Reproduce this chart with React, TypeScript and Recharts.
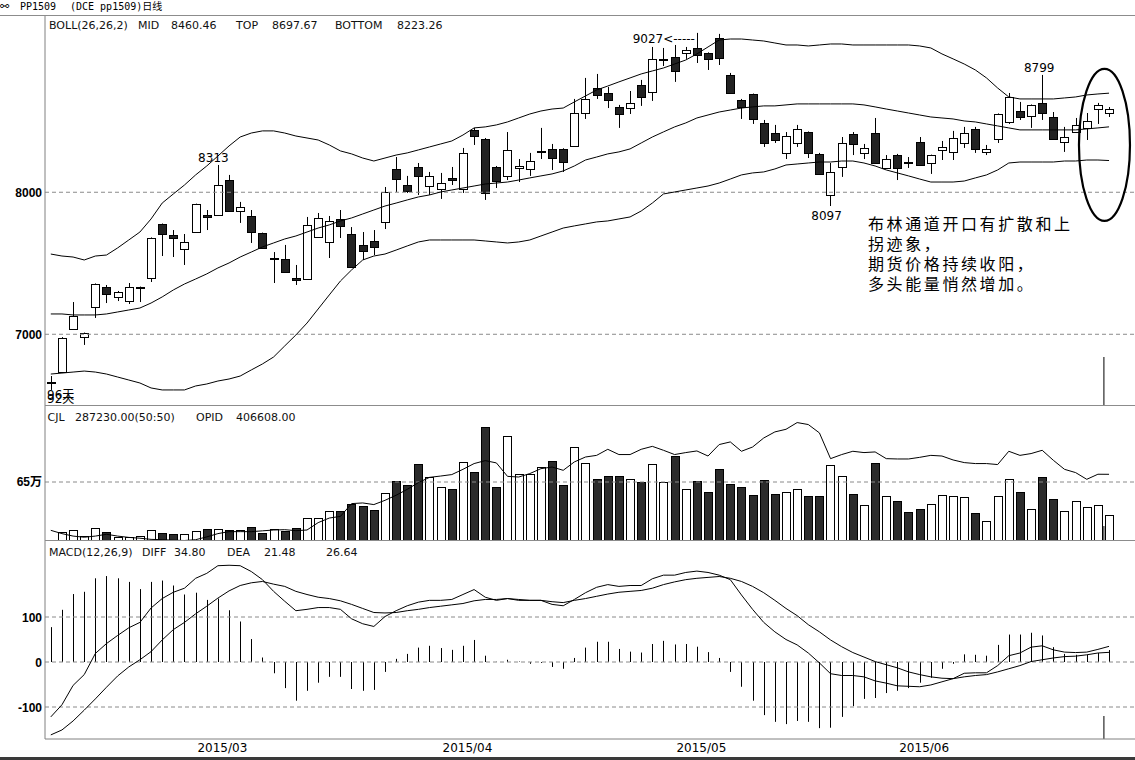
import React from "react";
import { ComposedChart, Bar, Line, XAxis, YAxis, ReferenceLine, ReferenceDot } from "recharts";

// Daily candles, 2015-02-02 .. 2015-06 (96 sessions)
const OPEN = [
  6665, 6734, 7037, 6981, 7192, 7333, 7263, 7234, 7326, 7396,
  7777, 7699, 7601, 7720, 7840, 7840, 8086, 7868, 7833, 7713,
  7530, 7530, 7396, 7389, 7685, 7650, 7812, 7706, 7629, 7657,
  7791, 8164, 8051, 8178, 8044, 8023, 8101, 8023, 8439, 8375,
  8178, 8115, 8171, 8164, 8284, 8305, 8305, 8326, 8558, 8734,
  8699, 8601, 8593, 8755, 8706, 8932, 8953, 8981, 9016, 8981,
  9086, 8826, 8650, 8692, 8488, 8417, 8277, 8347, 8424, 8270,
  7981, 8178, 8410, 8277, 8417, 8171, 8262, 8213, 8354, 8206,
  8298, 8284, 8347, 8446, 8284, 8375, 8495, 8572, 8537, 8629,
  8530, 8354, 8424, 8453, 8586, 8558,
];
const HIGH = [
  6706, 6980, 7227, 7012, 7358, 7347, 7305, 7361, 7336, 7682,
  7780, 7734, 7706, 7920, 7875, 8192, 8122, 7932, 7875, 7716,
  7579, 7629, 7488, 7826, 7854, 7833, 7875, 7755, 7720, 7734,
  8037, 8248, 8115, 8206, 8143, 8136, 8178, 8312, 8453, 8382,
  8185, 8424, 8234, 8277, 8453, 8340, 8310, 8657, 8805, 8833,
  8741, 8615, 8713, 8791, 9023, 9016, 9037, 9023, 9122, 8985,
  9115, 8840, 8657, 8695, 8509, 8474, 8424, 8474, 8428, 8277,
  8206, 8389, 8424, 8340, 8523, 8262, 8270, 8248, 8389, 8265,
  8361, 8432, 8460, 8460, 8333, 8555, 8699, 8636, 8618, 8826,
  8565, 8460, 8523, 8558, 8629, 8600,
];
const LOW = [
  6608, 6730, 7035, 6925, 7115, 7220, 7234, 7213, 7227, 7368,
  7551, 7544, 7488, 7713, 7734, 7838, 7865, 7784, 7643, 7605,
  7361, 7436, 7347, 7386, 7678, 7537, 7678, 7470, 7523, 7558,
  7741, 8002, 7995, 7981, 7981, 7953, 8051, 7995, 8333, 7946,
  8030, 8086, 8072, 8115, 8234, 8157, 8143, 8319, 8516, 8657,
  8593, 8453, 8551, 8608, 8643, 8889, 8777, 8939, 8910, 8861,
  8896, 8692, 8516, 8481, 8319, 8347, 8234, 8319, 8241, 8122,
  7903, 8108, 8262, 8234, 8203, 8164, 8086, 8171, 8185, 8129,
  8227, 8227, 8312, 8277, 8262, 8347, 8481, 8509, 8453, 8509,
  8368, 8284, 8417, 8368, 8481, 8530,
];
const CLOSE = [
  6660, 6974, 7129, 7009, 7354, 7284, 7298, 7333, 7333, 7678,
  7706, 7678, 7650, 7917, 7826, 8051, 7868, 7896, 7720, 7608,
  7537, 7439, 7382, 7770, 7819, 7798, 7763, 7474, 7586, 7615,
  8002, 8093, 8009, 8115, 8115, 8065, 8086, 8277, 8396, 7995,
  8079, 8298, 8185, 8220, 8290, 8241, 8213, 8558, 8657, 8685,
  8650, 8551, 8629, 8671, 8939, 8939, 8854, 9002, 8967, 8939,
  8946, 8699, 8601, 8516, 8347, 8368, 8396, 8446, 8277, 8129,
  8143, 8347, 8340, 8312, 8206, 8234, 8171, 8206, 8192, 8262,
  8319, 8382, 8417, 8305, 8305, 8551, 8671, 8530, 8615, 8558,
  8375, 8389, 8474, 8502, 8615, 8586,
];

// BOLL(26,26,2)
const BOLL_UP = [
  7565, 7551, 7544, 7523, 7551, 7558, 7608, 7664, 7720, 7812,
  7924, 7988, 8051, 8122, 8185, 8255, 8326, 8389, 8417, 8432,
  8432, 8417, 8396, 8382, 8368, 8333, 8291, 8270, 8241, 8220,
  8241, 8262, 8277, 8298, 8319, 8340, 8361, 8403, 8453, 8460,
  8474, 8495, 8523, 8551, 8572, 8586, 8593, 8636, 8678, 8720,
  8748, 8777, 8805, 8833, 8854, 8875, 8903, 8931, 8974, 9023,
  9072, 9079, 9079, 9072, 9065, 9051, 9037, 9037, 9030, 9037,
  9044, 9044, 9037, 9037, 9037, 9037, 9037, 9037, 9030, 9016,
  8974, 8939, 8903, 8861, 8805, 8734, 8671, 8657, 8657, 8657,
  8657, 8664, 8671, 8685, 8692, 8697.67,
];
const BOLL_MID = [
  7143, 7143, 7136, 7136, 7136, 7143, 7157, 7171, 7185, 7220,
  7263, 7312, 7354, 7389, 7425, 7467, 7502, 7544, 7579, 7615,
  7643, 7671, 7692, 7720, 7748, 7770, 7798, 7819, 7847, 7875,
  7903, 7924, 7946, 7967, 7981, 8002, 8016, 8030, 8044, 8058,
  8065, 8072, 8086, 8101, 8115, 8129, 8150, 8185, 8227, 8248,
  8270, 8284, 8305, 8347, 8389, 8425, 8460, 8488, 8523, 8544,
  8565, 8579, 8593, 8601, 8608, 8608, 8615, 8622, 8622, 8622,
  8622, 8622, 8622, 8615, 8601, 8586, 8572, 8558, 8544, 8530,
  8523, 8516, 8502, 8495, 8481, 8467, 8453, 8439, 8439, 8439,
  8439, 8439, 8439, 8446, 8453, 8460.46,
];
const BOLL_LOW = [
  6720, 6727, 6734, 6741, 6734, 6720, 6699, 6678, 6657, 6622,
  6608, 6608, 6608, 6636, 6650, 6671, 6685, 6706, 6749, 6791,
  6840, 6918, 6995, 7079, 7178, 7277, 7375, 7453, 7523, 7551,
  7565, 7593, 7622, 7650, 7664, 7664, 7664, 7664, 7664, 7657,
  7650, 7643, 7650, 7664, 7692, 7720, 7748, 7763, 7777, 7791,
  7798, 7812, 7826, 7868, 7924, 7988, 8002, 8016, 8030, 8044,
  8065, 8093, 8122, 8136, 8143, 8164, 8192, 8199, 8206, 8213,
  8213, 8220, 8220, 8206, 8185, 8157, 8136, 8115, 8093, 8072,
  8072, 8072, 8079, 8101, 8122, 8157, 8206, 8213, 8213, 8213,
  8213, 8220, 8220, 8227, 8227, 8223.26,
];

// CJL (volume) and OPID (open interest); no volume bar is shown for the first session
const VOLUME = [
  0, 96000, 121000, 55000, 140000, 96000, 48000, 41000, 55000, 121000,
  85000, 77000, 77000, 110000, 132000, 132000, 121000, 121000, 158000, 85000,
  129000, 110000, 143000, 250000, 250000, 330000, 330000, 409000, 381000, 338000,
  528000, 661000, 614000, 844000, 700000, 593000, 575000, 873000, 758000, 1253000,
  596000, 1156000, 743000, 743000, 819000, 876000, 618000, 1031000, 858000, 679000,
  711000, 711000, 679000, 646000, 851000, 646000, 941000, 571000, 661000, 539000,
  790000, 628000, 593000, 506000, 672000, 517000, 539000, 571000, 496000, 496000,
  840000, 718000, 517000, 399000, 862000, 492000, 442000, 323000, 348000, 409000,
  503000, 492000, 481000, 312000, 215000, 492000, 679000, 539000, 356000, 700000,
  463000, 334000, 445000, 377000, 399000, 287230,
];
const OPEN_INT = [
  65000, 45000, 30000, 23000, 30000, 41000, 30000, 22000, 17000, 10000,
  8000, 5000, 3000, 8000, 25000, 45000, 57000, 57000, 57000, 62000,
  67000, 69000, 63000, 67000, 112000, 140000, 150000, 228000, 232000, 222000,
  248000, 279000, 315000, 356000, 388000, 396000, 405000, 437000, 472000, 490000,
  476000, 394000, 390000, 411000, 441000, 451000, 431000, 482000, 512000, 522000,
  559000, 527000, 527000, 559000, 577000, 553000, 527000, 539000, 549000, 518000,
  588000, 604000, 547000, 573000, 628000, 665000, 681000, 722000, 710000, 659000,
  502000, 527000, 547000, 539000, 543000, 502000, 500000, 500000, 510000, 522000,
  518000, 494000, 478000, 472000, 472000, 466000, 547000, 522000, 533000, 553000,
  492000, 437000, 417000, 376000, 407000, 406608,
];

// MACD(12,26,9)
const DIFF = [
  -122, -95, -52, -28, 19, 41, 59, 76, 88, 120,
  141, 155, 164, 186, 197, 214, 215, 214, 201, 183,
  157, 135, 114, 117, 121, 121, 117, 96, 85, 79,
  101, 114, 125, 133, 137, 137, 139, 150, 161, 144,
  137, 141, 137, 137, 137, 128, 125, 139, 154, 166,
  172, 168, 170, 170, 185, 193, 193, 199, 202, 199,
  193, 183, 149, 117, 88, 67, 50, 38, 20, -2,
  -26, -30, -30, -33, -42, -47, -53, -54, -55, -51,
  -44, -37, -25, -24, -24, -8, 14, 20, 33, 36,
  27, 22, 21, 22, 28, 34.8,
];
const DEA = [
  -162, -151, -131, -107, -82, -56, -31, -11, 5, 23,
  49, 72, 88, 107, 124, 142, 158, 170, 176, 179,
  173, 168, 157, 150, 144, 141, 136, 128, 119, 110,
  109, 110, 114, 117, 121, 124, 127, 130, 136, 139,
  139, 141, 139, 137, 137, 134, 132, 137, 141, 146,
  151, 155, 157, 159, 164, 172, 178, 183, 186, 188,
  190, 186, 179, 168, 154, 137, 119, 103, 83, 67,
  49, 34, 21, 11, 1, -6, -13, -22, -28, -33,
  -36, -37, -33, -30, -28, -22, -15, -8, 1, 5,
  9, 12, 13, 16, 20, 21.48,
];
const MACD_HIST = [
  77.5, 116, 151, 156, 186, 191, 186, 178, 162, 178,
  181, 170, 150, 154, 138, 141, 115, 90, 51, 10,
  -25, -58, -86, -64, -46, -33, -33, -60, -64, -62,
  -22, 7, 18, 32, 36, 31, 27, 36, 49, 14,
  0.5, 5, 1, -4, -2, -11, -15, 9, 32, 45,
  45, 29, 23, 21, 40, 47, 39, 40, 34, 22,
  9, -22, -55, -86, -118, -133, -138, -131, -133, -147,
  -146, -122, -98, -82, -80, -69, -64, -58, -46, -35,
  -15, -4, 17, 16, 14, 38, 61, 61, 65, 59,
  33, 18, 16, 16, 20, 26.64,
];

// first session of each month
const DATE_TICKS = [15, 37, 58, 78];
const DATE_LABELS = ["2015/03", "2015/04", "2015/05", "2015/06"];

const NOTE_LINES = ["布林通道开口有扩散和上", "拐迹象，", "期货价格持续收阳，", "多头能量悄然增加。"];

const rows = OPEN.map((o, i) => ({
  i,
  o,
  h: HIGH[i],
  l: LOW[i],
  c: CLOSE[i],
  range: [LOW[i], HIGH[i]],
  bu: BOLL_UP[i],
  bm: BOLL_MID[i],
  bl: BOLL_LOW[i],
  vol: VOLUME[i],
  oi: OPEN_INT[i],
  diff: DIFF[i],
  dea: DEA[i],
  hist: MACD_HIST[i],
}));
const last = rows.length - 1;

const X_DOMAIN: [number, number] = [-0.521, 97.33];
const CURSOR_X = 94.54;
const SANS = "'DejaVu Sans', sans-serif";
const TICK_FONT = "'Liberation Sans', 'Noto Sans CJK SC', sans-serif";
const GRID = { stroke: "#8a8a8a", strokeDasharray: "4 3" };
const AXIS_LINE = { stroke: "#808080" };

// bold left-hand tick labels
const yTick = (fmt?: (v: number) => string) => (p: any) => (
  <text x={p.x} y={p.y} dy={4.5} textAnchor="end" fontSize={12} fontWeight={700} fontFamily={TICK_FONT} fill="#000">
    {fmt ? fmt(p.payload.value) : String(p.payload.value)}
  </text>
);

function Candle(props: any) {
  const { x, y, width, height, payload } = props;
  if (x == null || y == null || !payload) return null;
  const { o, c, h, l } = payload;
  const span = h - l || 1;
  const py = (v: number) => y + ((h - v) / span) * height;
  const cx = Math.round(x + width / 2);
  const up = c >= o;
  const top = Math.round(py(Math.max(o, c)));
  const bot = Math.round(py(Math.min(o, c)));
  return (
    <g>
      <line x1={cx + 0.5} x2={cx + 0.5} y1={y} y2={y + height} stroke="#000" />
      <rect x={cx - 3.5} y={top + 0.5} width={8} height={Math.max(bot - top, 0)} fill={up ? "#fff" : "#222"} stroke="#000" />
    </g>
  );
}

function VolumeBar(props: any) {
  const { x, y, width, height, payload } = props;
  if (x == null || y == null || !payload || !payload.vol) return null;
  const cx = Math.round(x + width / 2);
  const up = payload.c >= payload.o;
  const top = Math.round(y);
  const bottom = Math.round(y + height);
  return (
    <rect x={cx - 3.5} y={top + 0.5} width={8} height={Math.max(bottom - top - 1, 0)} fill={up ? "#fff" : "#2b2b2b"} stroke="#000" />
  );
}

function HistBar(props: any) {
  const { x, y, width, height } = props;
  if (x == null || y == null) return null;
  const cx = Math.round(x + width / 2) + 0.5;
  return <line x1={cx} x2={cx} y1={y} y2={y + height} stroke="#000" />;
}

function DateTick(props: any) {
  const { x, y, payload } = props;
  const label = DATE_LABELS[DATE_TICKS.indexOf(payload.value)];
  return (
    <text x={x + 4.5} y={y + 13} textAnchor="middle" fontSize={12} fontFamily={SANS} fill="#000">
      {label}
    </text>
  );
}

const note = (text: string, dx: number, dy: number, anchor: "start" | "middle" | "end" = "middle") =>
  (p: any) => (
    <text x={p.cx + dx} y={p.cy + dy} textAnchor={anchor} fontSize={12} fontFamily={SANS} fill="#000">
      {text}
    </text>
  );

const ring = (p: any) => <ellipse cx={p.cx} cy={p.cy} rx={25.5} ry={76} fill="none" stroke="#000" strokeWidth={2.2} />;

const lineProps = {
  type: "linear" as const,
  stroke: "#000",
  strokeWidth: 1,
  dot: false,
  activeDot: false,
  isAnimationActive: false,
};

function Title({ y, items }: { y: number; items: [number, string][] }) {
  return (
    <g>
      {items.map(([x, t]) => (
        <text key={x} x={x} y={y} fontSize={11} fontFamily={SANS} fill="#111">
          {t}
        </text>
      ))}
    </g>
  );
}

export default function App() {
  return (
    <div style={{ position: "absolute", left: 0, top: 0, width: 1135, height: 760, overflow: "hidden", background: "#fff" }}>
      <div style={{ position: "absolute", left: 0, top: 0 }}>
        <ComposedChart width={1135} height={406} data={rows} margin={{ top: 16, right: 0, bottom: 0, left: 0 }}>
          <XAxis dataKey="i" type="number" domain={X_DOMAIN} allowDataOverflow hide />
          <YAxis
            type="number"
            domain={[6495, 9241]}
            allowDataOverflow
            ticks={[7000, 8000]}
            width={45}
            tickSize={0}
            tickMargin={3}
            tickLine={false}
            axisLine={AXIS_LINE}
            tick={yTick()}
          />
          <ReferenceLine y={8000} {...GRID} />
          <ReferenceLine y={7000} {...GRID} />
          <Line dataKey="bu" {...lineProps} />
          <Line dataKey="bm" {...lineProps} />
          <Line dataKey="bl" {...lineProps} />
          <Bar dataKey="range" barSize={9} shape={(p: any) => <Candle {...p} />} isAnimationActive={false} />
          <ReferenceLine segment={[{ x: CURSOR_X, y: 6840 }, { x: CURSOR_X, y: 6495 }]} stroke="#000" />
          <ReferenceDot x={15} y={HIGH[15]} r={0} shape={note("8313", -4.5, -3)} />
          <ReferenceDot x={58} y={HIGH[58]} r={0} shape={note("9027<-----", -2, 10, "end")} />
          <ReferenceDot x={70} y={LOW[70]} r={0} shape={note("8097", -4, 14)} />
          <ReferenceDot x={89} y={HIGH[89]} r={0} shape={note("8799", -3, -3)} />
          <ReferenceDot x={94.59} y={8333} r={0} shape={ring} />
        </ComposedChart>
      </div>

      <div style={{ position: "absolute", left: 0, top: 406 }}>
        <ComposedChart width={1135} height={135} data={rows} margin={{ top: 0, right: 0, bottom: 0, left: 0 }}>
          <XAxis dataKey="i" type="number" domain={X_DOMAIN} allowDataOverflow hide />
          <YAxis
            yAxisId="v"
            orientation="left"
            type="number"
            domain={[0, 1487288]}
            allowDataOverflow
            ticks={[650000]}
            width={45}
            tickSize={0}
            tickMargin={3}
            tickLine={false}
            axisLine={AXIS_LINE}
            tick={yTick((v) => `${v / 10000}万`)}
          />
          <YAxis yAxisId="oi" orientation="right" type="number" domain={[0, 823000]} allowDataOverflow hide />
          <ReferenceLine yAxisId="v" y={650000} {...GRID} />
          <Bar yAxisId="v" dataKey="vol" barSize={9} shape={(p: any) => <VolumeBar {...p} />} isAnimationActive={false} />
          <Line yAxisId="oi" dataKey="oi" {...lineProps} />
          <ReferenceLine yAxisId="v" segment={[{ x: CURSOR_X, y: 165000 }, { x: CURSOR_X, y: 0 }]} stroke="#000" />
        </ComposedChart>
      </div>

      <div style={{ position: "absolute", left: 0, top: 541 }}>
        <ComposedChart width={1135} height={219} data={rows} margin={{ top: 0, right: 0, bottom: 0, left: 0 }}>
          <XAxis
            dataKey="i"
            type="number"
            domain={X_DOMAIN}
            allowDataOverflow
            ticks={DATE_TICKS}
            height={21}
            tickSize={0}
            tickMargin={0}
            tickLine={false}
            axisLine={AXIS_LINE}
            tick={(p: any) => <DateTick {...p} />}
            interval={0}
          />
          <YAxis
            type="number"
            domain={[-171.1, 268.9]}
            allowDataOverflow
            ticks={[-100, 0, 100]}
            width={45}
            tickSize={0}
            tickMargin={3}
            tickLine={false}
            axisLine={AXIS_LINE}
            tick={yTick()}
          />
          <ReferenceLine y={100} {...GRID} />
          <ReferenceLine y={0} {...GRID} />
          <ReferenceLine y={-100} {...GRID} />
          <Bar dataKey="hist" barSize={3} shape={(p: any) => <HistBar {...p} />} isAnimationActive={false} />
          <Line dataKey="diff" {...lineProps} />
          <Line dataKey="dea" {...lineProps} />
          <ReferenceLine segment={[{ x: CURSOR_X, y: -120 }, { x: CURSOR_X, y: -171 }]} stroke="#000" />
        </ComposedChart>
      </div>

      {/* frame lines */}
      <div style={{ position: "absolute", left: 0, top: 15, width: 1135, height: 1, background: "#8c8c8c" }} />
      <div style={{ position: "absolute", left: 45, top: 405, width: 1090, height: 1, background: "#8c8c8c" }} />
      <div style={{ position: "absolute", left: 45, top: 540, width: 1090, height: 1, background: "#8c8c8c" }} />
      <div style={{ position: "absolute", left: 0, top: 757, width: 1135, height: 3, background: "#3a3a3a" }} />

      <svg width={1135} height={760} style={{ position: "absolute", left: 0, top: 0, pointerEvents: "none" }}>
        <text x={0} y={10} fontSize={11} fontFamily={SANS} fill="#000">⚯</text>
        <text x={20} y={10} fontSize={10} fontFamily="'DejaVu Sans Mono', monospace" fill="#000">PP1509</text>
        <text x={70} y={10} fontSize={10} fontFamily="'DejaVu Sans Mono', 'Noto Sans CJK SC', monospace" fill="#000">
          (DCE pp1509)日线
        </text>
        <Title
          y={29}
          items={[
            [49, "BOLL(26,26,2)"],
            [138, "MID"],
            [171, BOLL_MID[last].toFixed(2)],
            [236, "TOP"],
            [272, BOLL_UP[last].toFixed(2)],
            [335, "BOTTOM"],
            [397, BOLL_LOW[last].toFixed(2)],
          ]}
        />
        <Title
          y={421}
          items={[
            [47.5, "CJL"],
            [75, `${VOLUME[last].toFixed(2)}(50:50)`],
            [196, "OPID"],
            [236, OPEN_INT[last].toFixed(2)],
          ]}
        />
        <Title
          y={556}
          items={[
            [49, "MACD(12,26,9)"],
            [142, "DIFF"],
            [174, DIFF[last].toFixed(2)],
            [227, "DEA"],
            [264, DEA[last].toFixed(2)],
            [326, MACD_HIST[last].toFixed(2)],
          ]}
        />
        <text x={47} y={399} fontSize={12} fontFamily="'DejaVu Sans', 'Noto Sans CJK SC'" fill="#000">96天</text>
        <text x={47} y={403} fontSize={12} fontFamily="'DejaVu Sans', 'Noto Sans CJK SC'" fill="#000">92天</text>
        {NOTE_LINES.map((t, k) => (
          <text key={k} x={868} y={229.5 + k * 20} fontSize={16} letterSpacing={2.6} fontFamily="'Noto Sans CJK SC', sans-serif" fill="#000">
            {t}
          </text>
        ))}
      </svg>
    </div>
  );
}
